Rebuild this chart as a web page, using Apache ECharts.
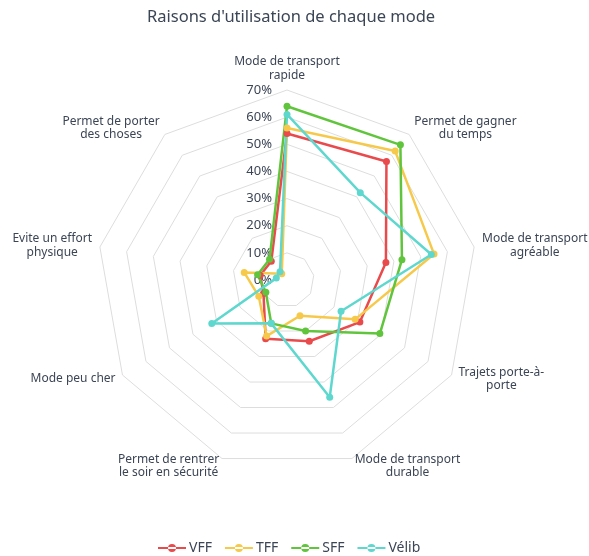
<!DOCTYPE html>
<html>
<head>
<meta charset="utf-8">
<script src="https://cdn.jsdelivr.net/npm/echarts@6/dist/echarts.min.js"></script>
<style>
  html, body { margin: 0; padding: 0; background: #fff; }
  #chart { width: 589px; height: 556px; }
</style>
</head>
<body>
<div id="chart"></div>
<script>
// indicators listed clockwise from the top (as in the picture)
const reasons = [
  "Mode de transport\nrapide",
  "Permet de gagner\ndu temps",
  "Mode de transport\nagréable",
  "Trajets porte-à-\nporte",
  "Mode de transport\ndurable",
  "Permet de rentrer\nle soir en sécurité",
  "Mode peu cher",
  "Evite un effort\nphysique",
  "Permet de porter\ndes choses",
];
const modes = ["VFF", "TFF", "SFF", "Vélib"];
const vff = [54, 57, 37, 31, 24, 23, 10, 10, 9];
const tff = [56, 62, 55, 29, 14, 22, 12, 16, 3];
const sff = [64, 65, 43, 39.5, 20, 17, 9, 11, 10];
const velib = [61, 42, 54, 23, 46, 17, 32, 4, 4];
const percentTicks = { min: 0, max: 70, interval: 10 };

const colors = ["#e94a4c", "#f7c94b", "#60c53c", "#5ed8cf"];
const textColor = "#3b4555";
const font = "Noto Sans";

// echarts radar runs counter-clockwise, so feed it reversed (keep first)
function clockwise(arr) {
  return [arr[0]].concat(arr.slice(1).reverse());
}

const chart = echarts.init(document.getElementById("chart"));
const allValues = [vff, tff, sff, velib];

chart.setOption({
  animation: false,
  color: colors,
  title: {
    text: "Raisons d'utilisation de chaque mode",
    left: 142,
    top: 4,
    textStyle: { fontFamily: font, fontSize: 16.5, fontWeight: "normal", color: textColor },
  },
  legend: {
    top: 536,
    left: 153,
    data: modes,
    itemWidth: 28,
    itemHeight: 8,
    itemGap: 13,
    icon: "path://M0,3.1H28V4.9H0Z M10,4A4,4 0 1 0 18,4A4,4 0 1 0 10,4Z",
    textStyle: { fontFamily: font, fontSize: 14, color: textColor, padding: [0, 0, 0, -2] },
  },
  radar: {
    center: [287, 280],
    radius: 190,
    startAngle: 90,
    shape: "polygon",
    splitNumber: 7,
    indicator: clockwise(reasons).map((r) => ({ name: r, min: percentTicks.min, max: percentTicks.max })),
    axisName: {
      fontFamily: font,
      fontSize: 12,
      color: textColor,
      lineHeight: 13.5,
      formatter: (name) => name.split("\n").map((l) => "{c|" + l + "}").join("\n"),
      rich: {
        c: { align: "center", fontFamily: font, fontSize: 12, color: textColor, lineHeight: 13.5 },
      },
    },
    nameGap: 8,
    axisLine: { show: false },
    axisTick: { show: false },
    axisLabel: { show: false },
    splitArea: { show: false },
    splitLine: { lineStyle: { color: "#dddddd", width: 1 } },
  },
  grid: { left: 287, top: 90, height: 190, width: 1 },
  xAxis: { type: "value", show: false },
  yAxis: {
    type: "value",
    min: percentTicks.min,
    max: percentTicks.max,
    interval: percentTicks.interval,
    axisLine: { show: false },
    axisTick: { show: false },
    splitLine: { show: false },
    axisLabel: {
      formatter: "{value}%",
      margin: 15,
      fontFamily: font,
      fontSize: 13,
      color: textColor,
    },
  },
  series: modes.map((m, i) => ({
    name: m,
    type: "radar",
    symbol: "circle",
    symbolSize: 7,
    lineStyle: { width: 2.5 },
    z: 3,
    data: [{ name: m, value: clockwise(allValues[i]) }],
  })),
});
</script>
</body>
</html>
